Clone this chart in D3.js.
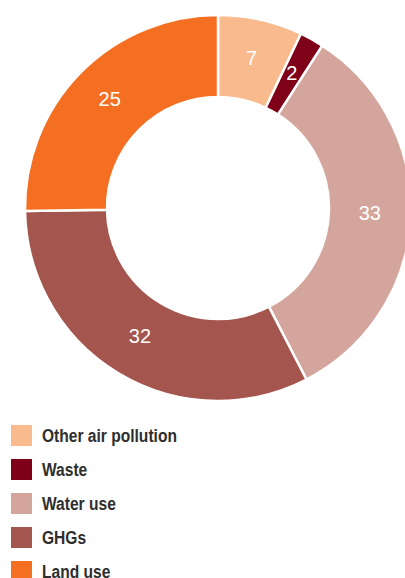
<!DOCTYPE html>
<html>
<head>
<meta charset="utf-8">
<script src="https://cdn.jsdelivr.net/npm/d3@7"></script>
<style>
  body { margin: 0; background: #fff; }
  svg { display: block; }
</style>
</head>
<body>
<div id="chart"></div>
<script>
const categories = ["Other air pollution", "Waste", "Water use", "GHGs", "Land use"];
const values = [7, 2, 33, 32, 25];
const colors = ["#f9ba8e", "#7e0019", "#d3a59c", "#a4554d", "#f46f22"];

const width = 405, height = 578;
const cx = 218, cy = 208;
const outerR = 193, innerR = 111;

const svg = d3.select("#chart").append("svg")
    .attr("width", width)
    .attr("height", height);

const color = d3.scaleOrdinal()
    .domain(categories)
    .range(colors);

const data = categories.map((c, i) => ({ name: c, value: values[i] }));

const pie = d3.pie()
    .value(d => d.value)
    .sort(null);

const arc = d3.arc()
    .innerRadius(innerR)
    .outerRadius(outerR);

const g = svg.append("g")
    .attr("transform", `translate(${cx},${cy})`);

const arcs = pie(data);

g.selectAll("path")
    .data(arcs)
    .join("path")
    .attr("d", arc)
    .attr("fill", d => color(d.data.name))
    .attr("stroke", "#fff")
    .attr("stroke-width", 2.5);

g.selectAll("text")
    .data(arcs)
    .join("text")
    .attr("transform", d => {
        const [x, y] = arc.centroid(d);
        return `translate(${x},${y - 2})`;
    })
    .attr("text-anchor", "middle")
    .attr("dominant-baseline", "central")
    .attr("fill", "#fff")
    .attr("font-family", "'Liberation Sans', Arial, sans-serif")
    .attr("font-size", "20px")
    .text(d => d.data.value);

// legend
const legend = svg.append("g")
    .attr("transform", "translate(11,425)");

const rowH = 34;

categories.forEach((c, i) => {
    const row = legend.append("g")
        .attr("transform", `translate(0,${i * rowH})`);
    row.append("rect")
        .attr("width", 21)
        .attr("height", 21)
        .attr("fill", color(c));
    // narrow look: squeeze Arial bold horizontally
    row.append("text")
        .attr("transform", "translate(31,17) scale(0.82,1)")
        .attr("fill", "#2e2e2e")
        .attr("font-family", "'Liberation Sans', Arial, sans-serif")
        .attr("font-weight", "bold")
        .attr("font-size", "19px")
        .text(c);
});
</script>
</body>
</html>
